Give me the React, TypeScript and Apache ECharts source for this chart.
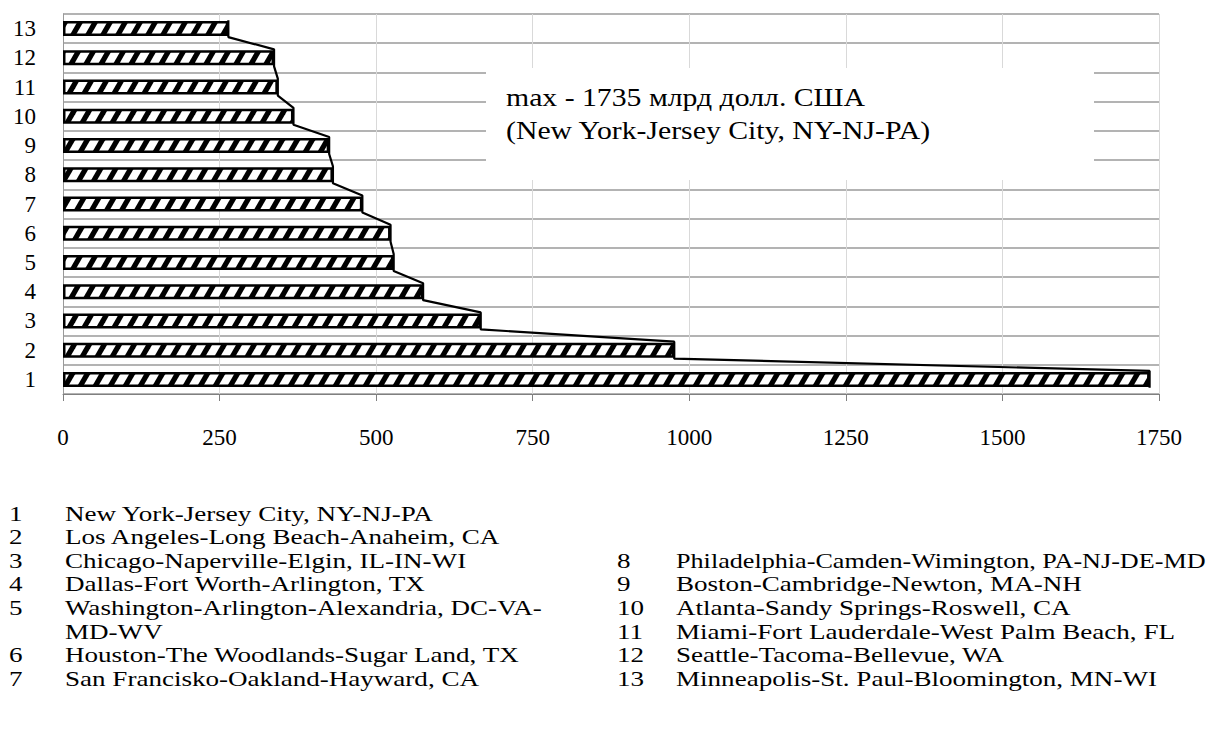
import React, { useEffect, useRef } from 'react';
import * as echarts from 'echarts';

// ---------- data ----------
const categories = ['1', '2', '3', '4', '5', '6', '7', '8', '9', '10', '11', '12', '13'];
const gdpValues = [1735, 976, 667, 575, 528, 523, 478, 431, 425, 368, 343, 337, 264];
const legendNumbers = ['1', '2', '3', '4', '5', '6', '7', '8', '9', '10', '11', '12', '13'];
const legendNames = [
  'New York-Jersey City, NY-NJ-PA',
  'Los Angeles-Long Beach-Anaheim, CA',
  'Chicago-Naperville-Elgin, IL-IN-WI',
  'Dallas-Fort Worth-Arlington, TX',
  'Washington-Arlington-Alexandria, DC-VA-\nMD-WV',
  'Houston-The Woodlands-Sugar Land, TX',
  'San Francisko-Oakland-Hayward, CA',
  'Philadelphia-Camden-Wimington, PA-NJ-DE-MD',
  'Boston-Cambridge-Newton, MA-NH',
  'Atlanta-Sandy Springs-Roswell, CA',
  'Miami-Fort Lauderdale-West Palm Beach, FL',
  'Seattle-Tacoma-Bellevue, WA',
  'Minneapolis-St. Paul-Bloomington, MN-WI',
];
const annotationLines = ['max - 1735 млрд долл. США', '(New York-Jersey City, NY-NJ-PA)'];
const xMin = 0;
const xMax = 1750;
const xStep = 250;

// ---------- style / layout ----------
const FONT = 'Times New Roman';
const BAR_W = 15;
const BAR_BORDER = 2.5;
const HALF_BAR_UNITS = 0.29;
const PAGE_W = 1209;

function makeHatch(): HTMLCanvasElement {
  const W = 15, H = 26, black = 6;
  const c = document.createElement('canvas');
  c.width = W;
  c.height = H;
  const ctx = c.getContext('2d')!;
  ctx.fillStyle = '#fff';
  ctx.fillRect(0, 0, W, H);
  ctx.fillStyle = '#000';
  for (const o of [-W, 0, W]) {
    ctx.beginPath();
    ctx.moveTo(o, H);
    ctx.lineTo(o + black, H);
    ctx.lineTo(o + black + W, 0);
    ctx.lineTo(o + W, 0);
    ctx.closePath();
    ctx.fill();
  }
  return c;
}

function measure(text: string, size: number): number {
  const c = document.createElement('canvas');
  const ctx = c.getContext('2d')!;
  ctx.font = `${size}px "${FONT}"`;
  return ctx.measureText(text).width;
}

export default function App() {
  const ref = useRef<HTMLDivElement>(null);

  useEffect(() => {
    if (!ref.current) return;
    document.body.style.margin = '0';
    const chart = echarts.init(ref.current, null, { renderer: 'svg' });

    const connector: number[][] = [];
    for (let k = categories.length - 1; k >= 0; k--) {
      const c = k + 0.5;
      connector.push([gdpValues[k], c + HALF_BAR_UNITS]);
      connector.push([gdpValues[k], c - HALF_BAR_UNITS]);
    }

    // legend graphics
    const rowY0 = 513;
    const rowStep = 23.6;
    const legendGraphics: any[] = [];
    const legendFont = 22;
    const legendScale = 1.23;
    legendNames.forEach((name, i) => {
      let row: number;
      let numX: number;
      let textX: number;
      if (i < 7) {
        row = i + (i > 4 ? 1 : 0);
        numX = 9;
        textX = 65;
      } else {
        row = i - 7 + 2;
        numX = 617;
        textX = 676;
      }
      const longest = Math.max(...name.split('\n').map((s) => measure(s, legendFont)));
      const scale = Math.min(legendScale, (PAGE_W - 3 - textX) / longest);
      const top = rowY0 + row * rowStep - rowStep / 2;
      legendGraphics.push({
        type: 'text',
        x: numX,
        y: top,
        scaleX: legendScale,
        z: 60,
        style: {
          text: legendNumbers[i],
          fontSize: legendFont,
          fontFamily: FONT,
          fill: '#000',
          lineHeight: rowStep,
          verticalAlign: 'top',
          align: 'left',
        },
      });
      legendGraphics.push({
        type: 'text',
        x: textX,
        y: top,
        scaleX: scale,
        z: 60,
        style: {
          text: name,
          fontSize: legendFont,
          fontFamily: FONT,
          fill: '#000',
          lineHeight: rowStep,
          verticalAlign: 'top',
          align: 'left',
        },
      });
    });

    const option: any = {
      animation: false,
      backgroundColor: '#fff',
      grid: { left: 63, right: 50, top: 14, bottom: 346, containLabel: false },
      xAxis: {
        type: 'value',
        min: xMin,
        max: xMax,
        interval: xStep,
        axisLine: { show: true, lineStyle: { color: '#808080', width: 1 } },
        axisTick: { show: true, length: 7, lineStyle: { color: '#808080' } },
        axisLabel: {
          color: '#000',
          fontSize: 23,
          fontFamily: FONT,
          margin: 32,
          formatter: (v: number) => String(v),
        },
        splitLine: { show: true, lineStyle: { color: '#d9d9d9', width: 1 } },
      },
      yAxis: [
        {
          type: 'category',
          data: categories,
          axisLine: { show: true, lineStyle: { color: '#9a9a9a', width: 1 } },
          axisTick: { show: false },
          axisLabel: { color: '#000', fontSize: 23, fontFamily: FONT, margin: 27, interval: 0 },
          splitLine: { show: true, interval: 0, lineStyle: { color: '#9a9a9a', width: 1.5 } },
        },
        { type: 'value', min: 0, max: categories.length, show: false },
      ],
      series: [
        {
          type: 'bar',
          data: gdpValues,
          barWidth: BAR_W,
          itemStyle: {
            color: { image: makeHatch(), repeat: 'repeat', imageWidth: 15, imageHeight: 26 },
            borderColor: '#000',
            borderWidth: BAR_BORDER,
          },
          z: 2,
        },
        {
          type: 'line',
          yAxisIndex: 1,
          data: connector,
          symbol: 'none',
          lineStyle: { color: '#000', width: 2.2 },
          z: 3,
        },
      ],
      graphic: [
        {
          type: 'rect',
          shape: { x: 486, y: 68, width: 608, height: 112 },
          style: { fill: '#fff' },
          z: 50,
        },
        {
          type: 'text',
          x: 506,
          y: 98,
          scaleX: 1.19,
          z: 60,
          style: { text: annotationLines[0], fontSize: 25, fontFamily: FONT, fill: '#000', verticalAlign: 'middle' },
        },
        {
          type: 'text',
          x: 506,
          y: 131,
          scaleX: 1.19,
          z: 60,
          style: { text: annotationLines[1], fontSize: 25, fontFamily: FONT, fill: '#000', verticalAlign: 'middle' },
        },
        ...legendGraphics,
      ],
    };

    chart.setOption(option);
    return () => chart.dispose();
  }, []);

  return <div ref={ref} style={{ position: 'absolute', left: 0, top: 0, width: PAGE_W, height: 740 }} />;
}
